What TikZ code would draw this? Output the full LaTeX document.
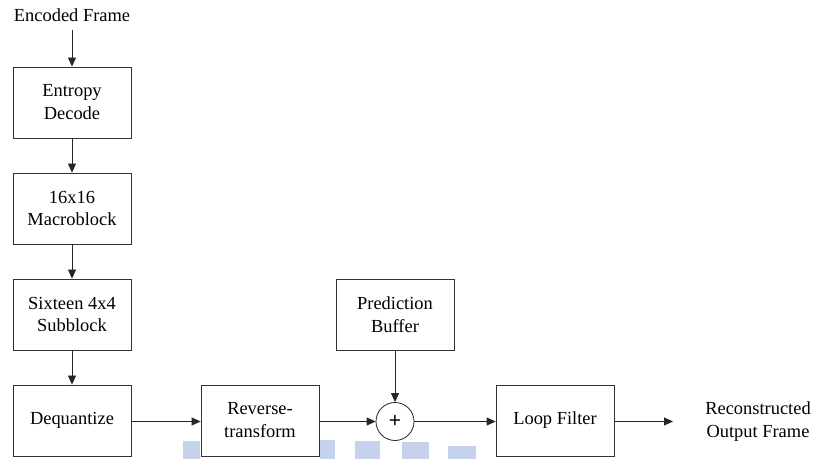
\documentclass[tikz,border=0pt]{standalone}
\usepackage{fontspec}
\setmainfont{Liberation Serif}
\newfontfamily\plusfont{Liberation Sans}
\usetikzlibrary{arrows.meta}
\definecolor{barblue}{RGB}{160,178,222}
\begin{document}
\begin{tikzpicture}[x=1bp,y=-1bp,
  every node/.style={font=\fontsize{18.5}{23}\selectfont, align=center, inner sep=0pt},
  block/.style={draw=black!80, fill=white, line width=0.8bp, minimum width=118bp, minimum height=71bp},
  flow/.style={draw=black!85, line width=0.8bp, -{Triangle[length=9bp,width=8bp]}},
  bgbar/.style={fill=barblue, opacity=0.6}]
\useasboundingbox (0,0) rectangle (813,459);
% faint background bars
\fill[bgbar] (183,441) rectangle (200,459);
\fill[bgbar] (320,440) rectangle (335,459);
\fill[bgbar] (355,441) rectangle (380,459);
\fill[bgbar] (402,442) rectangle (429,459);
\fill[bgbar] (448,446) rectangle (476,459);
% blocks
\node (src) at (72,15) {Encoded Frame};
\node[block] (ent) at (72,102.5) {Entropy\\Decode};
\node[block] (mb) at (72,208.5) {16x16\\Macroblock};
\node[block] (sb) at (72,314.5) {Sixteen 4x4\\Subblock};
\node[block] (dq) at (72,420.5) {Dequantize};
\node[block] (rt) at (260,420.5) {Reverse-\\transform};
\node[block] (pb) at (395,314.5) {Prediction\\Buffer};
\node[draw=black!85, line width=0.8bp, circle, minimum size=38bp, fill=white] (sum) at (395,421.5) {\plusfont\fontsize{21}{21}\selectfont +};
\node[block] (lf) at (555,420.5) {Loop Filter};
\node (out) at (758,422) {Reconstructed\\Output Frame};
\coordinate (outend) at (673,421.5);
% connectors
\draw[flow] (src.south |- 0,30) -- (ent);
\draw[flow] (ent) -- (mb);
\draw[flow] (mb) -- (sb);
\draw[flow] (sb) -- (dq);
\draw[flow] (dq.east |- sum) -- (rt.west |- sum);
\draw[flow] (rt.east |- sum) -- (sum);
\draw[flow] (pb) -- (sum);
\draw[flow] (sum) -- (lf.west |- sum);
\draw[flow] (lf.east |- sum) -- (outend);
\end{tikzpicture}
\end{document}
